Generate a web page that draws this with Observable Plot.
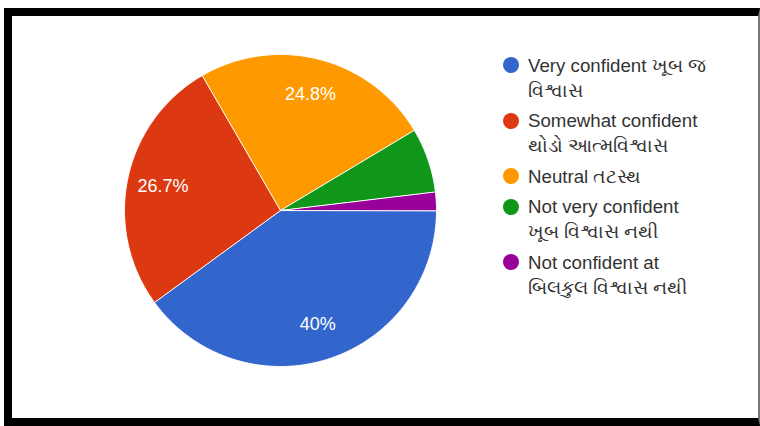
<!DOCTYPE html>
<html>
<head>
<meta charset="utf-8">
<script src="https://cdn.jsdelivr.net/npm/d3@7"></script>
<script src="https://cdn.jsdelivr.net/npm/@observablehq/plot@0.6"></script>
<style>
  html, body { margin: 0; padding: 0; background: #fff; }
  #wrap { position: relative; width: 760px; height: 426px; overflow: hidden; font-family: "Liberation Sans", Arial, sans-serif; }
  #frame { position: absolute; left: 4px; top: 8px; width: 746px; height: 402px;
    border-top: 8px solid #000; border-left: 8px solid #000; border-bottom: 8px solid #000; border-right: 2px solid #777; }
  #chart { position: absolute; left: 0; top: 0; }
  #legend { position: absolute; left: 528px; top: 52.5px; color: #333; font-size: 18.7px; }
  .entry { position: relative; margin-bottom: 5.5px; }
  .line { line-height: 25px; white-space: nowrap; }
  .dot { position: absolute; left: -25.5px; top: 4.5px; width: 16px; height: 16px; border-radius: 50%; }
</style>
</head>
<body>
<div id="wrap">
  <div id="frame"></div>
  <div id="chart"></div>
  <div id="legend"></div>
</div>
<script>
// Categories (legend labels, two lines each as wrapped in the reference)
const categoriesLine1 = ["Very confident ખૂબ જ", "Somewhat confident", "Neutral તટસ્થ", "Not very confident", "Not confident at"];
const categoriesLine2 = ["વિશ્વાસ", "થોડો આત્મવિશ્વાસ", "", "ખૂબ વિશ્વાસ નથી", "બિલકુલ વિશ્વાસ નથી"];
// Share of responses, percent
const values = [40, 26.7, 24.8, 6.7, 1.9];
// Slice label text shown on the pie
const sliceLabels = ["40%", "26.7%", "24.8%", "", ""];
const colors = ["#3366cc", "#dc3912", "#ff9900", "#109618", "#990099"];

const categories = categoriesLine1.map((l, i) => (l + " " + categoriesLine2[i]).trim());
const slices = categories.map((c, i) => ({category: c, value: values[i], label: sliceLabels[i]}));

const arcs = d3.pie().sort(null).value(d => d.value)
  .startAngle(Math.PI / 2).endAngle(Math.PI / 2 + 2 * Math.PI)(slices);

// Outline of each slice (geometry derived from the data angles)
const outline = [];
for (const a of arcs) {
  outline.push({category: a.data.category, x: 0, y: 0});
  const n = Math.max(2, Math.ceil((a.endAngle - a.startAngle) / (Math.PI / 360)));
  for (let k = 0; k <= n; k++) {
    const t = a.startAngle + (a.endAngle - a.startAngle) * k / n;
    outline.push({category: a.data.category, x: Math.sin(t), y: -Math.cos(t)});
  }
}
const labelPos = arcs.filter(a => a.data.label).map(a => {
  const m = (a.startAngle + a.endAngle) / 2;
  return {text: a.data.label, x: 0.77 * Math.sin(m), y: -0.77 * Math.cos(m)};
});

const plot = Plot.plot({
  width: 760,
  height: 426,
  margin: 0,
  style: {background: "transparent", overflow: "visible"},
  x: {domain: [-1, 1], range: [124, 436], axis: null},
  y: {domain: [-1, 1], range: [54, 366], axis: null},
  color: {domain: categories, range: colors},
  marks: [
    Plot.line(outline, {x: "x", y: "y", z: "category", fill: "category", stroke: "#fff", strokeWidth: 1, curve: "linear-closed"}),
    Plot.text(labelPos, {x: "x", y: "y", text: "text", fill: "#fff", fontSize: 18, fontFamily: "Liberation Sans, Arial, sans-serif"})
  ]
});
document.getElementById("chart").appendChild(plot);

const legend = document.getElementById("legend");
categories.forEach((c, i) => {
  const e = document.createElement("div");
  e.className = "entry";
  const d = document.createElement("div");
  d.className = "dot";
  d.style.background = colors[i];
  e.appendChild(d);
  for (const t of [categoriesLine1[i], categoriesLine2[i]]) {
    if (!t) continue;
    const l = document.createElement("div");
    l.className = "line";
    l.textContent = t;
    e.appendChild(l);
  }
  legend.appendChild(e);
});
</script>
</body>
</html>
